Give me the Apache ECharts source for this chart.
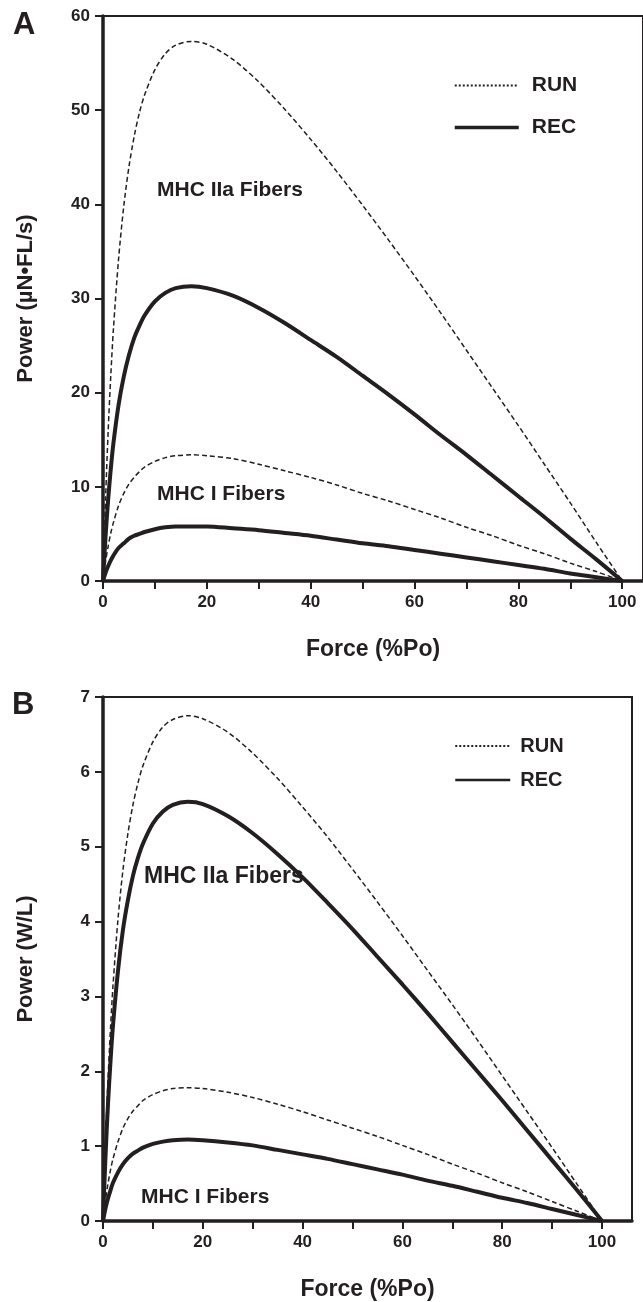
<!DOCTYPE html>
<html><head><meta charset="utf-8">
<script src="https://cdn.jsdelivr.net/npm/echarts@6/dist/echarts.min.js"></script>
<style>html,body{margin:0;padding:0;background:#fff}#c{width:643px;height:1302px}</style>
</head><body><div id="c"></div>
<script>
// Force (% of Po) at which each power value was read
const forcePct = [0,0.5,1,1.5,2,3,4,5,6,7,8,10,12,14,17,20,25,30,35,40,45,50,55,60,65,70,75,80,85,90,95,100];

// Panel A: Power (µN•FL/s)
const aIIaRun = [0,8.8,16.0,21.8,26.7,34.2,39.8,44.0,47.2,49.7,51.6,54.3,56.0,56.9,57.3,57.0,55.4,53.0,50.1,46.9,43.5,39.9,36.2,32.4,28.5,24.5,20.5,16.5,12.4,8.3,4.1,0];
const aIIaRec = [0,4.8,8.7,11.9,14.6,18.7,21.7,24.0,25.8,27.1,28.2,29.7,30.6,31.1,31.3,31.1,30.3,29.0,27.4,25.6,23.8,21.8,19.8,17.7,15.5,13.4,11.2,9.0,6.8,4.5,2.3,0];
const aIRun   = [0,2.1,3.7,5.1,6.2,8.0,9.3,10.3,11.0,11.6,12.1,12.7,13.1,13.3,13.4,13.3,13.0,12.4,11.7,11.0,10.2,9.3,8.5,7.6,6.7,5.7,4.8,3.8,2.9,1.9,1.0,0];
const aIRec   = [0,0.9,1.6,2.2,2.7,3.5,4.0,4.5,4.8,5.0,5.2,5.5,5.7,5.8,5.8,5.8,5.6,5.4,5.1,4.8,4.4,4.0,3.7,3.3,2.9,2.5,2.1,1.7,1.3,0.8,0.4,0];

// Panel B: Power (W/L)
const bIIaRun = [0,1.04,1.88,2.57,3.14,4.03,4.69,5.18,5.56,5.85,6.08,6.40,6.60,6.70,6.75,6.71,6.53,6.25,5.91,5.53,5.13,4.70,4.26,3.81,3.35,2.89,2.42,1.94,1.46,0.98,0.49,0];
const bIIaRec = [0,0.86,1.56,2.13,2.61,3.34,3.89,4.29,4.61,4.85,5.04,5.31,5.47,5.56,5.60,5.57,5.41,5.18,4.90,4.59,4.25,3.90,3.53,3.16,2.78,2.39,2.00,1.61,1.21,0.81,0.41,0];
const bIRun   = [0,0.28,0.50,0.68,0.83,1.06,1.24,1.37,1.47,1.54,1.61,1.69,1.74,1.77,1.78,1.77,1.72,1.65,1.56,1.46,1.35,1.24,1.13,1.01,0.89,0.76,0.64,0.51,0.39,0.26,0.13,0];
const bIRec   = [0,0.17,0.30,0.41,0.51,0.65,0.76,0.84,0.90,0.94,0.98,1.03,1.06,1.08,1.09,1.08,1.05,1.01,0.95,0.89,0.83,0.76,0.69,0.62,0.54,0.47,0.39,0.31,0.24,0.16,0.08,0];

const xTicks  = [0,10,20,30,40,50,60,70,80,90,100];
const xLabels = [0,20,40,60,80,100];
const yTitleA = 'Power (µN•FL/s)';
const yTitleB = 'Power (W/L)';
const xTitle  = 'Force (%Po)';

const INK = '#231f20';
const FONT = '"Liberation Sans", Arial, Helvetica, sans-serif';
const pts = v => forcePct.map((f, i) => [f, v[i]]);

function xAxis(gi, max) {
  return {
    gridIndex: gi, type: 'value', min: 0, max: max,
    name: xTitle, nameLocation: 'middle', nameGap: 57,
    nameTextStyle: {fontSize: 23, fontWeight: 'bold', color: INK, fontFamily: FONT},
    axisLine: {onZero: false, lineStyle: {color: INK, width: 3.5}},
    axisTick: {customValues: xTicks, length: 8, lineStyle: {color: INK, width: 2}},
    axisLabel: {customValues: xLabels, fontSize: 17, fontWeight: 'bold', color: INK, fontFamily: FONT, margin: 13},
    splitLine: {show: false}
  };
}
function yAxis(gi, max, interval, title) {
  return {
    gridIndex: gi, type: 'value', min: 0, max: max, interval: interval,
    name: title, nameLocation: 'middle', nameGap: 66,
    nameTextStyle: {fontSize: 22, fontWeight: 'bold', color: INK, fontFamily: FONT},
    axisLine: {onZero: false, lineStyle: {color: INK, width: 3.5}},
    axisTick: {length: 8, lineStyle: {color: INK, width: 2}},
    axisLabel: {fontSize: 17, fontWeight: 'bold', color: INK, fontFamily: FONT, margin: 13},
    splitLine: {show: false}
  };
}
function run(gi, v) {
  return {name: 'RUN', type: 'line', xAxisIndex: gi, yAxisIndex: gi, data: pts(v),
    symbol: 'none', smooth: 0.3, z: 3, itemStyle: {color: INK},
    lineStyle: {color: INK, width: 1.5, type: [5, 3]}};
}
function rec(gi, v) {
  return {name: 'REC', type: 'line', xAxisIndex: gi, yAxisIndex: gi, data: pts(v),
    symbol: 'none', smooth: 0.3, z: 2, itemStyle: {color: INK},
    lineStyle: {color: INK, width: 4}};
}
function txt(x, y, t, size) {
  return {type: 'text', x: x, y: y, style: {text: t, fill: INK, font: 'bold ' + size + 'px ' + FONT, verticalAlign: 'middle'}};
}
const noSym = {opacity: 0, borderWidth: 0, color: 'rgba(0,0,0,0)'};

const chart = echarts.init(document.getElementById('c'), null, {renderer: 'canvas'});
chart.setOption({
  animation: false,
  backgroundColor: '#fff',
  grid: [
    {left: 103, top: 16, width: 541, height: 565, show: true, borderColor: INK, borderWidth: 2},
    {left: 103, top: 697, width: 529, height: 537, show: true, borderColor: INK, borderWidth: 2}
  ],
  xAxis: [xAxis(0, 104), xAxis(1, 106)],
  yAxis: [yAxis(0, 60, 10, yTitleA), yAxis(1, 7, 1, yTitleB)],
  legend: [
    {data: [{name: 'RUN', lineStyle: {type: [2, 2], width: 2}}, {name: 'REC', lineStyle: {width: 3.5}}],
     orient: 'vertical', left: 448, top: 70, itemWidth: 64, itemHeight: 14, itemGap: 21,
     itemStyle: noSym,
     textStyle: {fontSize: 21, fontWeight: 'bold', color: INK, fontFamily: FONT, padding: [0, 0, 0, 8]}},
    {data: [{name: 'RUN', lineStyle: {type: [2, 2], width: 2}}, {name: 'REC', lineStyle: {width: 2.5}}],
     orient: 'vertical', left: 449, top: 731, itemWidth: 55, itemHeight: 14, itemGap: 14,
     itemStyle: noSym,
     textStyle: {fontSize: 20, fontWeight: 'bold', color: INK, fontFamily: FONT, padding: [0, 0, 0, 5]}}
  ],
  graphic: [
    txt(13, 25, 'A', 31), txt(12, 705, 'B', 31),
    txt(157, 190, 'MHC IIa Fibers', 21), txt(157, 494, 'MHC I Fibers', 21),
    txt(144, 877, 'MHC IIa Fibers', 23), txt(141, 1197, 'MHC I Fibers', 21)
  ],
  series: [
    run(0, aIIaRun), rec(0, aIIaRec), run(0, aIRun), rec(0, aIRec),
    run(1, bIIaRun), rec(1, bIIaRec), run(1, bIRun), rec(1, bIRec)
  ]
});
</script></body></html>
